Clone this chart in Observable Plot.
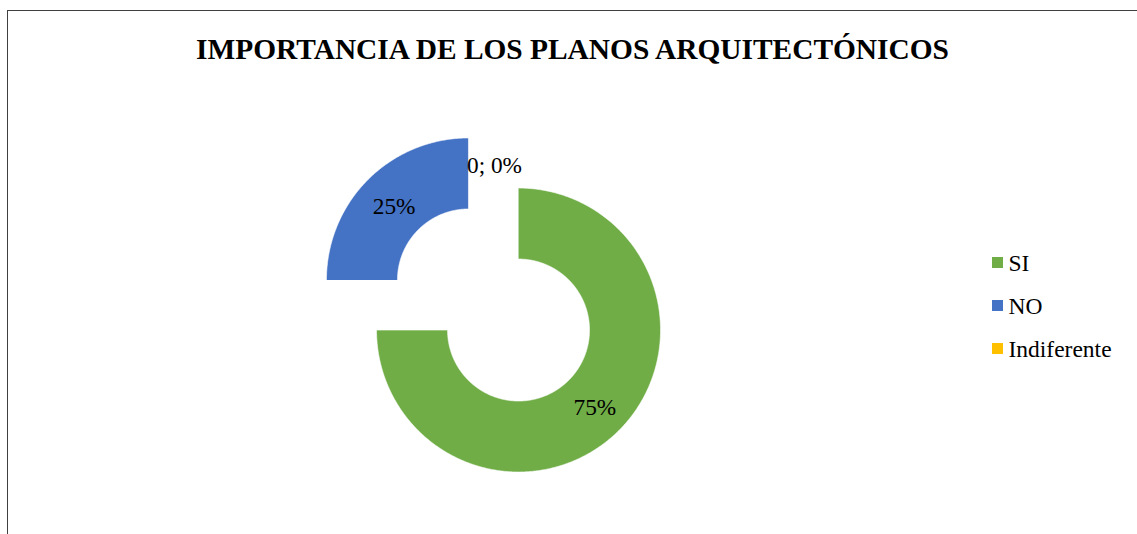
<!DOCTYPE html>
<html><head><meta charset="utf-8">
<script src="https://cdn.jsdelivr.net/npm/d3@7"></script>
<script src="https://cdn.jsdelivr.net/npm/@observablehq/plot@0.6"></script>
<style>
html,body{margin:0;padding:0;background:#fff;}
#wrap{position:relative;width:1137px;height:534px;overflow:hidden;font-family:"Liberation Serif","Times New Roman",Times,serif;}
#border{position:absolute;left:7px;top:10px;width:1300px;height:700px;border:1px solid #404040;box-sizing:border-box;}
#title{position:absolute;left:8px;right:0;top:33.5px;text-align:center;font-weight:bold;font-size:29.4px;line-height:30px;color:#000;white-space:nowrap;}
#chart{position:absolute;left:0;top:0;}
</style></head>
<body><div id="wrap"><div id="border"></div><div id="chart"></div><div id="title">IMPORTANCIA DE LOS PLANOS ARQUITECTÓNICOS</div></div>
<script>
const categories = ["SI", "NO", "Indiferente"];
const values = [75, 25, 0];
const colors = ["#70AD47", "#4472C4", "#FFC000"];

// layout constants (pixels)
const W = 1137, H = 534;
const cx = 493, cy = 304.5, rOuter = 142, rInner = 71, explode = 35.4;
const FONT = '"Liberation Serif","Times New Roman",Times,serif';

const total = d3.sum(values);
const data = categories.map((c, i) => ({cat: c, value: values[i], pct: Math.round(values[i] / total * 100)}));
const arcs = d3.pie().sort(null).value(d => d.value).startAngle(0).endAngle(2 * Math.PI)(data);

// polygon points for each (exploded) ring slice
const pts = [];
for (const a of arcs) {
  if (a.data.value <= 0) continue;
  const mid = (a.startAngle + a.endAngle) / 2;
  const ox = cx + explode * Math.sin(mid), oy = cy - explode * Math.cos(mid);
  const n = Math.max(2, Math.ceil((a.endAngle - a.startAngle) / (Math.PI / 360)));
  for (let k = 0; k <= n; k++) {
    const t = a.startAngle + (a.endAngle - a.startAngle) * k / n;
    pts.push({cat: a.data.cat, x: ox + rOuter * Math.sin(t), y: oy - rOuter * Math.cos(t)});
  }
  for (let k = n; k >= 0; k--) {
    const t = a.startAngle + (a.endAngle - a.startAngle) * k / n;
    pts.push({cat: a.data.cat, x: ox + rInner * Math.sin(t), y: oy - rInner * Math.cos(t)});
  }
}

// data labels at slice centroids
const labels = arcs.map(a => {
  const mid = (a.startAngle + a.endAngle) / 2;
  const rr = explode + (rOuter + rInner) / 2;
  return {
    x: cx + rr * Math.sin(mid),
    y: cy - rr * Math.cos(mid),
    text: a.data.value > 0 ? `${a.data.pct}%` : `${a.data.value}; ${a.data.pct}%`
  };
});

// legend rows
const legX = 992, legY0 = 262.5, legStep = 43, sw = 11;
const legend = categories.map((c, i) => ({cat: c, y: legY0 + i * legStep}));

const plot = Plot.plot({
  width: W, height: H,
  margin: 0,
  x: {domain: [0, W], range: [0, W], axis: null},
  y: {domain: [0, H], range: [0, H], axis: null},
  color: {domain: categories, range: colors},
  style: {background: "transparent", fontFamily: FONT},
  marks: [
    Plot.line(pts, {x: "x", y: "y", z: "cat", fill: "cat", stroke: "white", strokeWidth: 0.6, curve: "linear"}),
    Plot.text(labels, {x: "x", y: "y", text: "text", dx: 1, dy: 2, fontSize: 23.3, fill: "#000", fontFamily: FONT}),
    Plot.rect(legend, {x1: legX, x2: legX + sw, y1: d => d.y - sw / 2, y2: d => d.y + sw / 2, fill: "cat"}),
    Plot.text(legend, {x: legX + sw + 5, y: "y", text: "cat", textAnchor: "start", fontSize: 23.5, fill: "#000", fontFamily: FONT})
  ]
});
document.getElementById("chart").appendChild(plot);
</script>
</body></html>
